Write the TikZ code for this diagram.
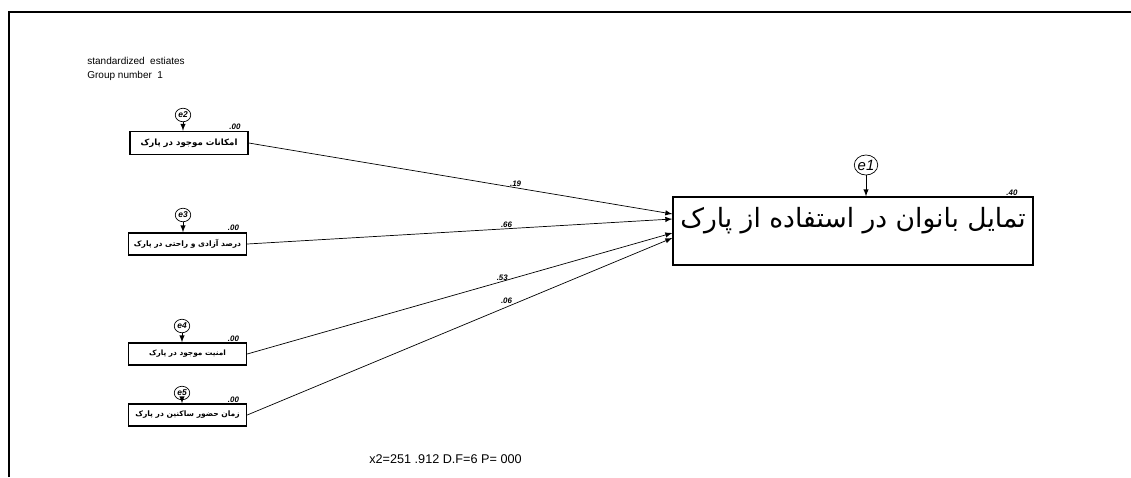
\documentclass[tikz,border=0pt]{standalone}
\usepackage{fontspec}
\setmainfont{Liberation Sans}
\newfontfamily\arabicfont[Script=Arabic]{DejaVu Sans}
\TeXXeTstate=1
\usetikzlibrary{shapes.geometric}

\begin{document}
\begin{tikzpicture}[x=0.02cm,y=-0.02cm,>=latex,
		obsbox/.style={draw, thick, inner sep=0pt, minimum width=2.36cm, minimum height=0.46cm, font=\arabicfont\bfseries\fontsize{4.3}{5}\selectfont},
		errnode/.style={draw, ellipse, inner sep=0pt, minimum width=0.31cm, minimum height=0.27cm, font=\bfseries\itshape\fontsize{4.8}{5}\selectfont},
		coef/.style={font=\bfseries\itshape\fontsize{4.5}{5}\selectfont, inner sep=0.5pt},
		path/.style={->, thin}]
	\useasboundingbox (0,0) rectangle (1131,477);
	% frame
	\draw[line width=1.1pt] (9,477) -- (9,12) -- (1131,12);
	% titles
	\node[anchor=west, align=left, font=\fontsize{5.7}{7.8}\selectfont, inner sep=0pt] (title) at (87,69) {standardized\ \ estiates\\Group number\ \ 1};
	\node[anchor=west, font=\fontsize{7.2}{8}\selectfont, inner sep=0pt] (fit) at (369,459) {x2=251 .912 D.F=6 P= 000};
	% observed variables
	\node[obsbox, font=\arabicfont\bfseries\fontsize{4.9}{5.5}\selectfont] (b1) at (189,143) {\beginR امکانات موجود در پارک\endR};
	\node[obsbox, minimum height=0.44cm] (b2) at (187.5,244) {\beginR درصد آزادی و راحتی در پارک\endR};
	\node[obsbox, minimum height=0.44cm, font=\arabicfont\bfseries\fontsize{4.2}{5}\selectfont] (b3) at (187.5,354) {\beginR امنیت موجود در پارک\endR};
	\node[obsbox, minimum height=0.44cm] (b4) at (187.5,415) {\beginR زمان حضور ساکنین در پارک\endR};
	\node[draw, thick, minimum width=7.2cm, minimum height=1.36cm] (y) at (853,231) {};
	\node[font=\arabicfont\fontsize{15.1}{17}\selectfont, inner sep=0pt] (ylab) at (853,221) {\beginR تمایل بانوان در استفاده از پارک\endR};
	% errors
	\node[errnode] (e2) at (183,115) {e2};
	\node[errnode] (e3) at (183,215) {e3};
	\node[errnode] (e4) at (182,326) {e4};
	\node[errnode] (e5) at (182,393) {e5};
	\node[errnode, minimum width=0.46cm, minimum height=0.4cm, font=\itshape\fontsize{8.5}{9}\selectfont] (e1) at (866,165) {e1};
	\foreach \e/\b in {e2/b1,e3/b2,e4/b3,e5/b4}
		\draw[->] (\e) -- (\e |- \b.north);
	\draw[->] (e1) -- (e1 |- y.north);
	% squared multiple correlations
	\foreach \b in {b1,b2,b3,b4}
		\node[coef, anchor=south east, xshift=-0.14cm] at (\b.north east) {.00};
	\node[coef, anchor=south east, xshift=-0.3cm] (r2) at (y.north east) {.40};
	% paths
	\draw[path] (b1.east) -- node[coef, pos=0.63, above] {.19} (y.west |- 0,214);
	\draw[path] (b2.east) -- node[coef, pos=0.61, above] {.66} (y.west |- 0,219);
	\draw[path] (b3.east) -- node[coef, pos=0.6, above] {.53} (y.west |- 0,233);
	\draw[path] (b4.east) -- node[coef, pos=0.61, above=1pt] {.06} (y.west |- 0,238);
\end{tikzpicture}
\end{document}
